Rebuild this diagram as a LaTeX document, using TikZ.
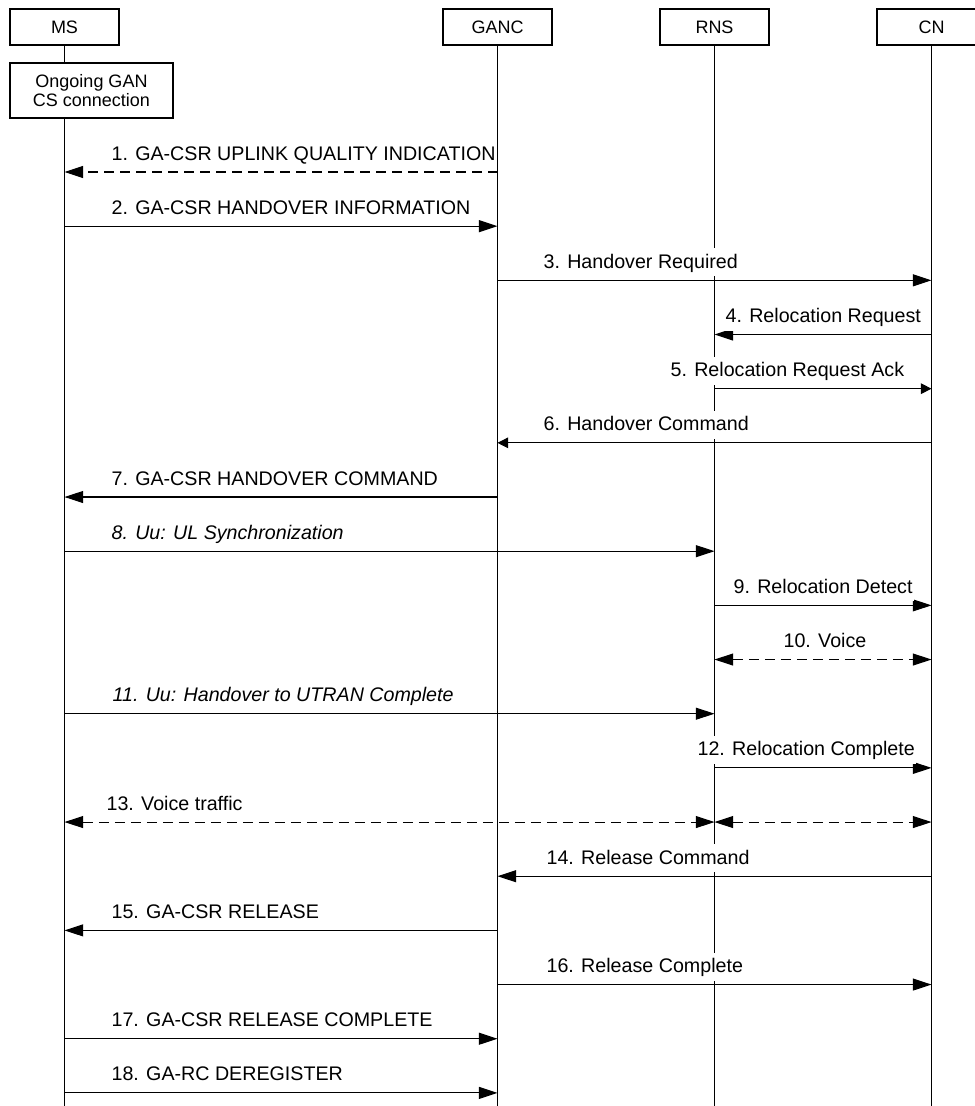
\documentclass[tikz,border=0pt]{standalone}
\usepackage{fontspec}
\setmainfont{Liberation Sans}
\usetikzlibrary{positioning,arrows.meta}
\tikzset{
  entity/.style={draw,line width=0.8pt,minimum width=81.75pt,minimum height=27pt,
    inner sep=0pt,font=\fontsize{13.5}{14.25}\selectfont},
  life/.style={line width=0.8pt},
  msg/.style={line width=0.8pt,-{Triangle[length=14pt,width=9pt]}},
  msgsmall/.style={line width=0.8pt,-{Triangle[length=8pt,width=8pt]}},
  dashmsg/.style={msg,dash pattern=on 7.5pt off 4.5pt},
  voice/.style={line width=0.8pt,dash pattern=on 7.5pt off 4.5pt,
    {Triangle[length=14pt,width=9pt]}-{Triangle[length=14pt,width=9pt]}},
  lbl/.style={anchor=base west,fill=white,inner xsep=1pt,inner ysep=2pt,
    text height=13pt,text depth=4pt,font=\fontsize{14.75}{18}\selectfont},
}
\begin{document}
\begin{tikzpicture}[x=0.75pt,y=-0.75pt]
  \useasboundingbox (0,0) rectangle (974,1106);
  % entities along the top
  \node[entity] (ms) at (64.5,27) {MS};
  \node[entity] (ganc) at (497.5,27) {GANC};
  \node[entity] (rns) at (714.5,27) {RNS};
  \node[entity] (cn) at (931.5,27) {CN};
  \coordinate (bottom) at (0,1106);
  \foreach \e in {ms,ganc,rns,cn}
    \draw[life] (\e.south) -- (\e |- bottom);
  \node[entity,fill=white,minimum width=122.25pt,minimum height=41.25pt,align=center]
    (ongoing) at (91.5,90.5) {Ongoing GAN\\CS connection};
  % one row per message
  \foreach \n in {1,...,18}
    \coordinate (m\n) at (0,{172+(\n-1)*54.17});
  \foreach \n/\a/\b/\lx/\t in {
      2/ms/ganc/110/{2. GA-CSR HANDOVER INFORMATION},
      3/ganc/cn/542/{3. Handover Required},
      4/cn/rns/724/{4. Relocation Request},
      7/ganc/ms/110/{7. GA-CSR HANDOVER COMMAND},
      8/ms/rns/110/{\itshape 8. Uu: UL Synchronization},
      9/rns/cn/732/{9. Relocation Detect},
      11/ms/rns/111/{\itshape 11. Uu: Handover to UTRAN Complete},
      12/rns/cn/696/{12. Relocation Complete},
      14/cn/ganc/545/{14. Release Command},
      15/ganc/ms/110/{15. GA-CSR RELEASE},
      16/ganc/cn/545/{16. Release Complete},
      17/ms/ganc/110/{17. GA-CSR RELEASE COMPLETE},
      18/ms/ganc/110/{18. GA-RC DEREGISTER}} {
    \draw[msg] (\a |- m\n) -- (\b |- m\n);
    \node[lbl] (l\n) at (\lx,{160+(\n-1)*54.17}) {\t};
  }
  % the odd ones
  \draw[dashmsg] (ganc |- m1) -- (ms |- m1);
  \node[lbl] (l1) at (110,160) {1. GA-CSR UPLINK QUALITY INDICATION};
  \draw[msgsmall] (rns |- m5) -- (cn |- m5);
  \node[lbl] (l5) at (669,{160+4*54.17}) {5. Relocation Request Ack};
  \draw[msgsmall] (cn |- m6) -- (ganc |- m6);
  \node[lbl] (l6) at (542,{160+5*54.17}) {6. Handover Command};
  \draw[voice] (rns |- m10) -- (cn |- m10);
  \node[lbl] (l10) at (782,{160+9*54.17}) {10. Voice};
  \draw[voice] (ms |- m13) -- (rns |- m13);
  \draw[voice] (rns |- m13) -- (cn |- m13);
  \node[lbl] (l13) at (105,{160+12*54.17}) {13. Voice traffic};
\end{tikzpicture}
\end{document}
